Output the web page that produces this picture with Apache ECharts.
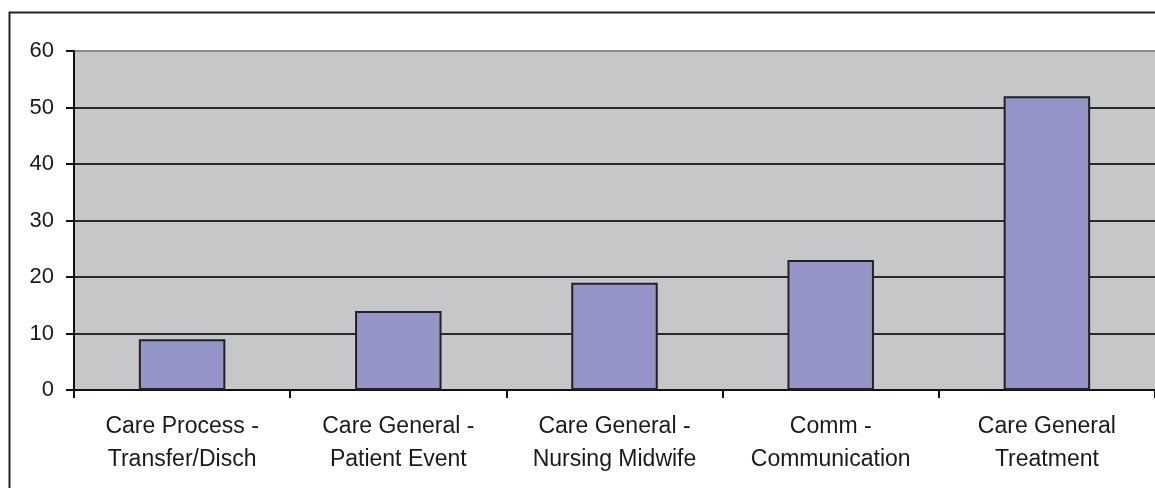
<!DOCTYPE html>
<html>
<head>
<meta charset="utf-8">
<script src="https://cdn.jsdelivr.net/npm/echarts@6/dist/echarts.min.js"></script>
<style>
  html, body { margin: 0; padding: 0; background: #fff; }
  #chart { width: 1155px; height: 488px; }
</style>
</head>
<body>
<div id="chart"></div>
<script>
const categories = [
  'Care Process -\nTransfer/Disch',
  'Care General -\nPatient Event',
  'Care General -\nNursing Midwife',
  'Comm -\nCommunication',
  'Care General\nTreatment'
];
const values = [9, 14, 19, 23, 52];
const yTicks = { min: 0, max: 60, interval: 10 };

const chart = echarts.init(document.getElementById('chart'));

const option = {
  animation: false,
  graphic: [
    {
      type: 'rect',
      left: 7,
      top: 10,
      shape: { width: 1300, height: 600 },
      style: { fill: 'none', stroke: '#222', lineWidth: 2 },
      silent: true
    }
  ],
  grid: {
    left: 74,
    top: 51,
    right: -1,
    bottom: 98,
    show: true,
    backgroundColor: '#c6c7c9',
    borderWidth: 0
  },
  xAxis: {
    type: 'category',
    data: categories,
    axisLine: { lineStyle: { color: '#111', width: 2 } },
    axisTick: { show: true, length: 8, lineStyle: { color: '#111', width: 2 } },
    axisLabel: {
      color: '#1a1a1a',
      fontFamily: 'Liberation Sans, Arial, sans-serif',
      fontSize: 23,
      lineHeight: 33,
      margin: 20,
      interval: 0
    }
  },
  yAxis: {
    type: 'value',
    min: yTicks.min,
    max: yTicks.max,
    interval: yTicks.interval,
    axisLine: { show: true, lineStyle: { color: '#111', width: 2 } },
    axisTick: { show: true, length: 8, lineStyle: { color: '#111', width: 2 } },
    axisLabel: {
      color: '#1a1a1a',
      fontFamily: 'Liberation Sans, Arial, sans-serif',
      fontSize: 22,
      margin: 20
    },
    splitLine: {
      lineStyle: {
        color: ['#2a2a2a', '#2a2a2a', '#2a2a2a', '#2a2a2a', '#2a2a2a', '#2a2a2a', '#8a8a8a'],
        width: 2
      }
    }
  },
  series: [
    {
      type: 'bar',
      data: values,
      barWidth: '40%',
      itemStyle: {
        color: '#9494c8',
        borderColor: '#222',
        borderWidth: 2
      }
    }
  ]
};

chart.setOption(option);
</script>
</body>
</html>
